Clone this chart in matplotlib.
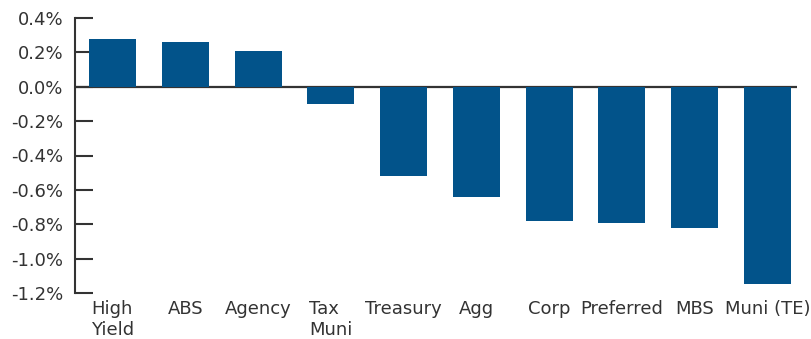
import matplotlib
matplotlib.use("Agg")
import matplotlib.pyplot as plt
from matplotlib.ticker import FuncFormatter

categories = ["High\nYield", "ABS", "Agency", "Tax\nMuni", "Treasury", "Agg",
              "Corp", "Preferred", "MBS", "Muni (TE)"]
values = [0.28, 0.26, 0.21, -0.10, -0.52, -0.64, -0.78, -0.79, -0.82, -1.15]
yticks = [0.4, 0.2, 0.0, -0.2, -0.4, -0.6, -0.8, -1.0, -1.2]

plt.rcParams['font.family'] = ['DejaVu Sans']
fig = plt.figure(figsize=(8.11, 3.39), dpi=100)
ax = fig.add_axes([75/811, 1-293/339, (797-75)/811, (293-18)/339])

x = list(range(len(categories)))
ax.bar(x, values, width=0.645, color='#02538A', zorder=3)
ax.axhline(0, color='#333333', lw=1.6, zorder=2)

ax.set_xlim(-0.515, 9.405)
ax.set_ylim(-1.2, 0.4)
ax.set_yticks(yticks)
ax.yaxis.set_major_formatter(FuncFormatter(lambda v, p: f"{v:.1f}%".replace("-0.0", "0.0")))
ax.tick_params(axis='y', direction='in', length=13, width=1.5, color='#333333',
               labelsize=13, labelcolor='#333333', pad=8.5)
ax.set_xticks(x)
ax.set_xticklabels(categories, multialignment='left')
ax.tick_params(axis='x', length=0, labelsize=13, labelcolor='#333333', pad=5)
for s in ['top', 'right', 'bottom']:
    ax.spines[s].set_visible(False)
ax.spines['left'].set_color('#333333')
ax.spines['left'].set_linewidth(1.5)

fig.savefig("out.png", dpi=100)
